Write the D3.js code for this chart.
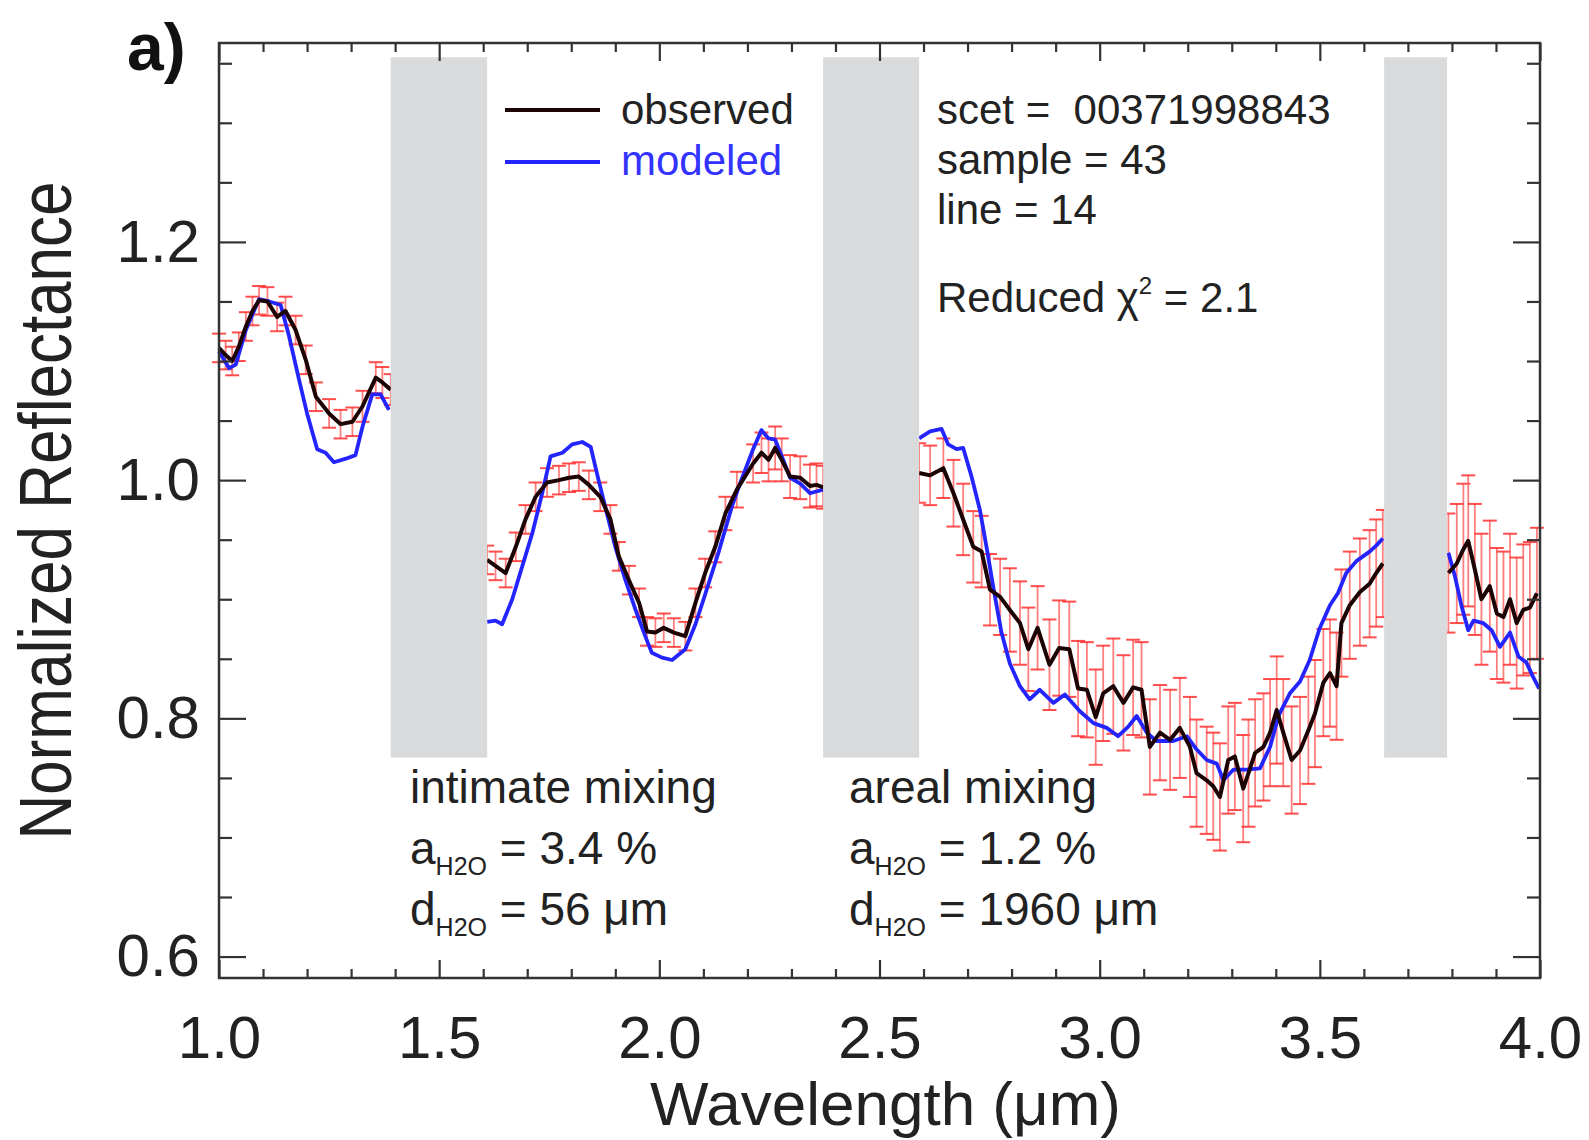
<!DOCTYPE html>
<html>
<head>
<meta charset="utf-8">
<script src="https://cdn.jsdelivr.net/npm/d3@7"></script>
<style>
  body { margin: 0; background: #fff; }
  svg text { font-family: "Liberation Sans", Arial, Helvetica, sans-serif; fill: #222; }
</style>
</head>
<body>
<svg id="chart" width="1589" height="1140"></svg>
<script>
// observed spectrum (null = gap between segments)
var obsWl = [1.000, 1.015, 1.030, 1.045, 1.061, 1.076, 1.091, 1.110, 1.132, 1.151, 1.174, 1.197, 1.220, 1.250, 1.276, 1.303, 1.326, 1.356, 1.371, 1.390,
  1.500,
  1.609, 1.628, 1.651, 1.674, 1.696, 1.719, 1.745, 1.772, 1.795, 1.817, 1.840, 1.866, 1.889, 1.908, 1.931, 1.954, 1.972, 1.991, 2.010, 2.033, 2.059, 2.082, 2.104, 2.127, 2.150, 2.176, 2.213, 2.232, 2.248, 2.263, 2.278, 2.297, 2.320, 2.342, 2.357, 2.372,
  2.480,
  2.590, 2.615, 2.645, 2.668, 2.690, 2.713, 2.732, 2.751, 2.774, 2.796, 2.819, 2.838, 2.859, 2.886, 2.908, 2.931, 2.951, 2.971, 2.991, 3.008, 3.031, 3.054, 3.076, 3.095, 3.114, 3.137, 3.160, 3.182, 3.205, 3.220, 3.243, 3.258, 3.273, 3.292, 3.307, 3.326, 3.338, 3.353, 3.372, 3.387, 3.402, 3.417, 3.436, 3.455, 3.474, 3.489, 3.508, 3.523, 3.538, 3.549, 3.568, 3.591, 3.613, 3.628, 3.643,
  3.720,
  3.792, 3.811, 3.826, 3.837, 3.852, 3.867, 3.886, 3.902, 3.917, 3.932, 3.947, 3.962, 3.977, 3.993];
var obsVal = [1.111, 1.105, 1.100, 1.112, 1.129, 1.142, 1.151, 1.150, 1.137, 1.142, 1.126, 1.101, 1.070, 1.056, 1.047, 1.049, 1.062, 1.086, 1.082, 1.076,
  null,
  0.933, 0.928, 0.922, 0.944, 0.967, 0.986, 0.998, 1.000, 1.002, 1.003, 0.996, 0.986, 0.967, 0.936, 0.916, 0.897, 0.873, 0.872, 0.876, 0.872, 0.869, 0.897, 0.922, 0.944, 0.972, 0.992, 1.014, 1.023, 1.017, 1.027, 1.017, 1.003, 1.002, 0.995, 0.996, 0.994,
  null,
  1.006, 1.004, 1.010, 0.989, 0.967, 0.944, 0.940, 0.908, 0.902, 0.891, 0.880, 0.858, 0.876, 0.845, 0.859, 0.858, 0.825, 0.824, 0.801, 0.821, 0.827, 0.813, 0.826, 0.824, 0.776, 0.788, 0.782, 0.792, 0.776, 0.754, 0.748, 0.743, 0.734, 0.765, 0.768, 0.741, 0.754, 0.771, 0.776, 0.788, 0.807, 0.788, 0.765, 0.773, 0.790, 0.804, 0.830, 0.838, 0.827, 0.880, 0.895, 0.906, 0.913, 0.922, 0.930,
  null,
  0.922, 0.930, 0.942, 0.949, 0.925, 0.900, 0.911, 0.888, 0.885, 0.900, 0.880, 0.891, 0.893, 0.905];
var obsErr = [0.012, 0.012, 0.012, 0.012, 0.012, 0.012, 0.012, 0.012, 0.012, 0.012, 0.012, 0.012, 0.012, 0.012, 0.012, 0.012, 0.013, 0.013, 0.013, 0.013,
  null,
  0.012, 0.012, 0.012, 0.012, 0.012, 0.012, 0.012, 0.012, 0.012, 0.012, 0.012, 0.012, 0.012, 0.012, 0.012, 0.012, 0.012, 0.012, 0.012, 0.012, 0.012, 0.012, 0.012, 0.013, 0.014, 0.015, 0.016, 0.017, 0.018, 0.018, 0.018, 0.018, 0.018, 0.018, 0.018, 0.018,
  null,
  0.025, 0.025, 0.025, 0.028, 0.030, 0.030, 0.030, 0.030, 0.032, 0.035, 0.035, 0.035, 0.035, 0.038, 0.040, 0.040, 0.040, 0.040, 0.040, 0.040, 0.040, 0.040, 0.040, 0.040, 0.040, 0.040, 0.042, 0.042, 0.042, 0.045, 0.045, 0.045, 0.045, 0.045, 0.045, 0.045, 0.045, 0.045, 0.045, 0.045, 0.045, 0.045, 0.045, 0.045, 0.045, 0.045, 0.045, 0.045, 0.045, 0.045, 0.045, 0.045, 0.045, 0.045, 0.045,
  null,
  0.050, 0.050, 0.055, 0.055, 0.055, 0.055, 0.055, 0.055, 0.055, 0.055, 0.055, 0.055, 0.055, 0.055];

// modeled spectrum
var modWl = [1.000, 1.023, 1.038, 1.061, 1.091, 1.114, 1.140, 1.159, 1.182, 1.200, 1.223, 1.242, 1.261, 1.288, 1.310, 1.326, 1.348, 1.367, 1.386,
  1.500,
  1.609, 1.628, 1.643, 1.666, 1.689, 1.712, 1.734, 1.753, 1.780, 1.802, 1.825, 1.844, 1.862, 1.881, 1.900, 1.923, 1.946, 1.968, 1.983, 2.006, 2.029, 2.059, 2.082, 2.104, 2.135, 2.165, 2.183, 2.213, 2.232, 2.248, 2.263, 2.278, 2.297, 2.320, 2.342, 2.372,
  2.480,
  2.590, 2.615, 2.641, 2.656, 2.675, 2.690, 2.709, 2.728, 2.743, 2.758, 2.777, 2.796, 2.819, 2.841, 2.864, 2.895, 2.921, 2.955, 2.986, 3.016, 3.042, 3.065, 3.084, 3.107, 3.129, 3.167, 3.198, 3.220, 3.243, 3.266, 3.281, 3.304, 3.334, 3.364, 3.387, 3.406, 3.432, 3.455, 3.477, 3.499, 3.523, 3.541, 3.560, 3.583, 3.613, 3.628, 3.643,
  3.720,
  3.792, 3.807, 3.822, 3.837, 3.849, 3.871, 3.890, 3.909, 3.932, 3.951, 3.969, 3.984, 3.998];
var modVal = [1.108, 1.094, 1.097, 1.126, 1.152, 1.150, 1.147, 1.121, 1.084, 1.056, 1.026, 1.023, 1.015, 1.018, 1.021, 1.045, 1.072, 1.072, 1.059,
  null,
  0.881, 0.882, 0.879, 0.900, 0.928, 0.956, 0.989, 1.020, 1.023, 1.030, 1.032, 1.028, 1.000, 0.972, 0.944, 0.916, 0.891, 0.869, 0.855, 0.851, 0.849, 0.858, 0.879, 0.904, 0.940, 0.978, 0.997, 1.026, 1.042, 1.035, 1.034, 1.020, 1.002, 0.997, 0.989, 0.992,
  null,
  1.035, 1.041, 1.043, 1.030, 1.026, 1.027, 1.003, 0.975, 0.944, 0.911, 0.872, 0.846, 0.827, 0.816, 0.824, 0.813, 0.820, 0.806, 0.796, 0.792, 0.785, 0.793, 0.802, 0.788, 0.781, 0.781, 0.785, 0.774, 0.765, 0.762, 0.748, 0.757, 0.757, 0.758, 0.776, 0.802, 0.821, 0.831, 0.849, 0.875, 0.895, 0.905, 0.922, 0.932, 0.940, 0.945, 0.951,
  null,
  0.939, 0.919, 0.894, 0.874, 0.882, 0.880, 0.874, 0.860, 0.872, 0.852, 0.847, 0.835, 0.825];

// masked (gray) wavelength ranges
var bandStart = [1.39, 2.372, 3.646];
var bandEnd = [1.609, 2.590, 3.789];
var bandTop = 1.355, bandBottom = 0.767;

var xMajor = [1.0, 1.5, 2.0, 2.5, 3.0, 3.5, 4.0];
var yMajor = [0.6, 0.8, 1.0, 1.2];

var svg = d3.select('#chart');
var pLeft = 219, pRight = 1540, pTop = 43, pBottom = 978;

var x = d3.scaleLinear().domain([1, 4]).range([pLeft, pRight]);
var y = d3.scaleLinear().domain([0.582, 1.367]).range([pBottom, pTop]);

var obs = obsWl.map(function(w, i) { return { w: w, r: obsVal[i], e: obsErr[i] }; });
var mod = modWl.map(function(w, i) { return { w: w, r: modVal[i] }; });

// error bars
var eb = svg.append('g').attr('class', 'errors');
obs.filter(function(d) { return d.r != null; }).forEach(function(d) {
  var px = x(d.w);
  eb.append('line')
    .attr('x1', px).attr('x2', px)
    .attr('y1', y(d.r - d.e)).attr('y2', y(d.r + d.e))
    .style('stroke', '#ff6060').style('stroke-width', 1.8).style('opacity', 0.8);
  [d.r - d.e, d.r + d.e].forEach(function(v) {
    eb.append('line')
      .attr('x1', px - 7).attr('x2', px + 7)
      .attr('y1', y(v)).attr('y2', y(v))
      .style('stroke', '#ff3030').style('stroke-width', 2).style('opacity', 0.85);
  });
});

var line = d3.line()
  .defined(function(d) { return d.r != null; })
  .x(function(d) { return x(d.w); })
  .y(function(d) { return y(d.r); });

svg.append('path').datum(mod)
  .attr('d', line)
  .style('fill', 'none').style('stroke', '#2424ff').style('stroke-width', 3.8)
  .style('stroke-linejoin', 'round');

svg.append('path').datum(obs)
  .attr('d', line)
  .style('fill', 'none').style('stroke', '#1c0404').style('stroke-width', 4)
  .style('stroke-linejoin', 'round');

// gray bands on top of the curves
bandStart.forEach(function(b, i) {
  svg.append('rect')
    .attr('x', x(b)).attr('width', x(bandEnd[i]) - x(b))
    .attr('y', y(bandTop)).attr('height', y(bandBottom) - y(bandTop))
    .style('fill', '#d9dadc');
});

// axes, ticks inward on all four sides
var xMinor = d3.range(1.1, 4.0, 0.1).map(function(v) { return +v.toFixed(1); })
  .filter(function(v) { return xMajor.indexOf(v) < 0; });
var yMinor = d3.range(0.65, 1.36, 0.05).map(function(v) { return +v.toFixed(2); })
  .filter(function(v) { return yMajor.indexOf(v) < 0; });

function styleAxis(g) {
  g.select('.domain').remove();
  g.selectAll('line').style('stroke', '#333').style('stroke-width', 2.2);
  g.selectAll('text').style('font-size', '60px').style('fill', '#222');
}

svg.append('g').attr('transform', 'translate(0,' + pBottom + ')')
  .call(d3.axisBottom(x).tickValues(xMajor).tickSize(-18).tickPadding(37).tickFormat(d3.format('.1f')))
  .call(styleAxis);
svg.append('g').attr('transform', 'translate(0,' + pBottom + ')')
  .call(d3.axisBottom(x).tickValues(xMinor).tickSize(-9).tickFormat(''))
  .call(styleAxis);
svg.append('g').attr('transform', 'translate(0,' + pTop + ')')
  .call(d3.axisTop(x).tickValues(xMajor).tickSize(-18).tickFormat(''))
  .call(styleAxis);
svg.append('g').attr('transform', 'translate(0,' + pTop + ')')
  .call(d3.axisTop(x).tickValues(xMinor).tickSize(-9).tickFormat(''))
  .call(styleAxis);

svg.append('g').attr('transform', 'translate(' + pLeft + ',0)')
  .call(d3.axisLeft(y).tickValues(yMajor).tickSize(-27).tickPadding(19).tickFormat(d3.format('.1f')))
  .call(styleAxis);
svg.append('g').attr('transform', 'translate(' + pLeft + ',0)')
  .call(d3.axisLeft(y).tickValues(yMinor).tickSize(-13).tickFormat(''))
  .call(styleAxis);
svg.append('g').attr('transform', 'translate(' + pRight + ',0)')
  .call(d3.axisRight(y).tickValues(yMajor).tickSize(-27).tickFormat(''))
  .call(styleAxis);
svg.append('g').attr('transform', 'translate(' + pRight + ',0)')
  .call(d3.axisRight(y).tickValues(yMinor).tickSize(-13).tickFormat(''))
  .call(styleAxis);

svg.append('rect')
  .attr('x', pLeft).attr('y', pTop).attr('width', pRight - pLeft).attr('height', pBottom - pTop)
  .style('fill', 'none').style('stroke', '#333').style('stroke-width', 2.5);

// axis titles
svg.append('text')
  .attr('x', (pLeft + pRight) / 2 + 6).attr('y', 1125)
  .attr('text-anchor', 'middle')
  .style('font-size', '62px')
  .text('Wavelength (μm)');

svg.append('text')
  .attr('transform', 'translate(71,' + ((pTop + pBottom) / 2) + ') rotate(-90) scale(1,1.2)')
  .attr('text-anchor', 'middle')
  .style('font-size', '62px')
  .text('Normalized Reflectance');

svg.append('text')
  .attr('x', 127).attr('y', 70)
  .style('font-size', '66px').style('font-weight', 'bold').style('fill', '#111')
  .text('a)');

// legend
svg.append('line').attr('x1', 505).attr('x2', 600).attr('y1', 110).attr('y2', 110)
  .style('stroke', '#1c0404').style('stroke-width', 4);
svg.append('line').attr('x1', 505).attr('x2', 600).attr('y1', 162).attr('y2', 162)
  .style('stroke', '#2424ff').style('stroke-width', 4);
svg.append('text').attr('x', 621).attr('y', 124).style('font-size', '42px').text('observed');
svg.append('text').attr('x', 621).attr('y', 175).style('font-size', '42px').style('fill', '#3333ff').text('modeled');

// observation info
var info = svg.append('g').style('font-size', '42px');
info.append('text').attr('x', 937).attr('y', 124).attr('xml:space', 'preserve').text('scet =  00371998843');
info.append('text').attr('x', 937).attr('y', 174).text('sample = 43');
info.append('text').attr('x', 937).attr('y', 224).text('line = 14');
var chi = info.append('text').attr('x', 937).attr('y', 312);
chi.append('tspan').text('Reduced χ');
chi.append('tspan').attr('dy', -18).style('font-size', '24px').text('2');
chi.append('tspan').attr('dy', 18).text(' = 2.1');

// fit parameters
function paramBlock(x0, title, abund, size) {
  var g = svg.append('g').style('font-size', '46px');
  g.append('text').attr('x', x0).attr('y', 803).text(title);
  var a = g.append('text').attr('x', x0).attr('y', 864);
  a.append('tspan').text('a');
  a.append('tspan').attr('dy', 11).style('font-size', '25px').text('H2O');
  a.append('tspan').attr('dy', -11).text(' = ' + abund + ' %');
  var d = g.append('text').attr('x', x0).attr('y', 925);
  d.append('tspan').text('d');
  d.append('tspan').attr('dy', 11).style('font-size', '25px').text('H2O');
  d.append('tspan').attr('dy', -11).text(' = ' + size + ' μm');
}
paramBlock(410, 'intimate mixing', '3.4', '56');
paramBlock(849, 'areal mixing', '1.2', '1960');
</script>
</body>
</html>
